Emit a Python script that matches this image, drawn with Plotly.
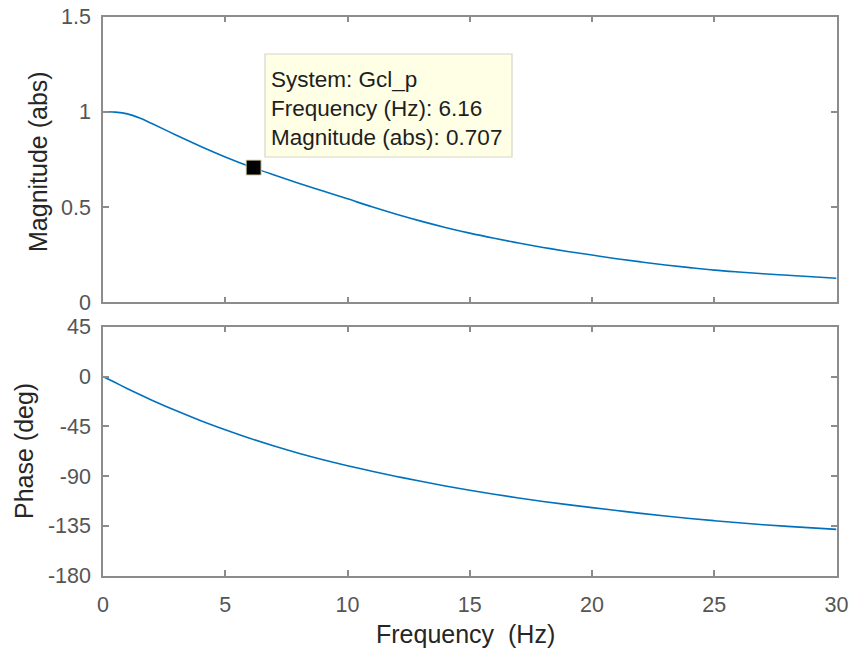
import plotly.graph_objects as go

# Closed-loop response Gcl_p, linear frequency axis
freq_hz = [0, 0.5, 1, 1.5] + list(range(2, 31))
magnitude_abs = [1.0, 0.998, 0.989, 0.967, 0.938, 0.877, 0.818, 0.763, 0.713,
                 0.668, 0.625, 0.584, 0.543, 0.501, 0.462, 0.426, 0.393,
                 0.363, 0.336, 0.311, 0.288, 0.267, 0.248, 0.229, 0.212,
                 0.196, 0.182, 0.169, 0.159, 0.150, 0.142, 0.134, 0.126]
phase_deg = [0, -5.5, -11, -16.3, -21.4, -31, -39.9, -48.1, -55.8, -62.8,
             -69.3, -75.2, -80.6, -85.6, -90.3, -94.7, -98.9, -102.8,
             -106.4, -109.8, -112.9, -115.8, -118.5, -121.1, -123.7, -126.1,
             -128.3, -130.3, -132.2, -133.9, -135.4, -136.8, -138.1]

# Data tip
tip_freq = 6.16
tip_mag = 0.707
tip_system = "Gcl_p"

# Tick labels
x_ticks = [0, 5, 10, 15, 20, 25, 30]
mag_ticks = [0, 0.5, 1, 1.5]
mag_tick_text = ["0", "0.5", "1", "1.5"]
phase_ticks = [-180, -135, -90, -45, 0, 45]
phase_tick_text = ["-180", "-135", "-90", "-45", "0", "45"]

W, H = 850, 655
LINE_BLUE = "#0072BD"
FRAME = "#8c8c8c"
FONT = "Liberation Sans, Arial, sans-serif"


def px_x(p):
    return p / W


def px_y(p):
    return 1 - p / H


x_dom = [px_x(103), px_x(836.5)]
mag_dom = [px_y(302.3), px_y(16.5)]
ph_dom = [px_y(575.7), px_y(326.7)]

axis_common = dict(
    showline=True, linecolor=FRAME, linewidth=1.5, mirror="allticks",
    ticks="inside", ticklen=6, tickwidth=1.5, tickcolor=FRAME,
    showgrid=False, zeroline=False, automargin=False,
    tickfont=dict(family=FONT, size=21.5, color="#555555"),
)

fig = go.Figure()

fig.add_trace(go.Scatter(
    x=freq_hz, y=magnitude_abs, mode="lines",
    line=dict(color=LINE_BLUE, width=1.6, shape="spline", smoothing=1.0),
    xaxis="x", yaxis="y", showlegend=False, hoverinfo="skip",
))
fig.add_trace(go.Scatter(
    x=freq_hz, y=phase_deg, mode="lines",
    line=dict(color=LINE_BLUE, width=1.6, shape="spline", smoothing=1.0),
    xaxis="x2", yaxis="y2", showlegend=False, hoverinfo="skip",
))
fig.add_trace(go.Scatter(
    x=[tip_freq], y=[tip_mag], mode="markers",
    marker=dict(symbol="square", size=15, color="black",
                line=dict(color="#d8d8b0", width=1)),
    xaxis="x", yaxis="y", showlegend=False, hoverinfo="skip",
))

fig.update_layout(
    width=W, height=H, autosize=False,
    margin=dict(l=0, r=0, t=0, b=0),
    paper_bgcolor="white", plot_bgcolor="white",
    xaxis=dict(domain=x_dom, range=[0, 30], tickvals=x_ticks,
               showticklabels=False, anchor="y", **axis_common),
    yaxis=dict(domain=mag_dom, range=[0, 1.5], tickvals=mag_ticks,
               ticktext=mag_tick_text, anchor="x", ticklabelstandoff=6,
               **axis_common),
    xaxis2=dict(domain=x_dom, range=[0, 30], tickvals=x_ticks,
                anchor="y2", ticklabelstandoff=9, **axis_common),
    yaxis2=dict(domain=ph_dom, range=[-180, 45], tickvals=phase_ticks,
                ticktext=phase_tick_text, anchor="x2", ticklabelstandoff=6,
                **axis_common),
)

title_font = dict(family=FONT, size=25, color="#262626")
title_common = dict(xref="paper", yref="paper", xanchor="center",
                    yanchor="middle", showarrow=False, font=title_font)
fig.add_annotation(text="Magnitude (abs)", x=px_x(38), y=px_y(162),
                   textangle=-90, **title_common)
fig.add_annotation(text="Phase (deg)", x=px_x(24), y=px_y(451),
                   textangle=-90, **title_common)
fig.add_annotation(text="Frequency\u00a0 (Hz)", x=px_x(465), y=px_y(634),
                   **title_common)

# Data tip box
fig.add_shape(type="rect", xref="paper", yref="paper",
              x0=px_x(265), x1=px_x(512), y0=px_y(157), y1=px_y(54),
              fillcolor="#ffffe5", line=dict(color="#d6d6c8", width=1.2))
tip_lines = [
    f"System: {tip_system}",
    f"Frequency (Hz): {tip_freq:.2f}",
    f"Magnitude (abs): {tip_mag:.3f}",
]
tip_font = dict(family=FONT, size=22.5, color="#1e1e1e")
for i, line in enumerate(tip_lines):
    fig.add_annotation(text=line, x=px_x(269), y=px_y(79 + 29 * i),
                       xref="paper", yref="paper", xanchor="left",
                       yanchor="middle", showarrow=False, font=tip_font)

fig.write_html("out.html")
